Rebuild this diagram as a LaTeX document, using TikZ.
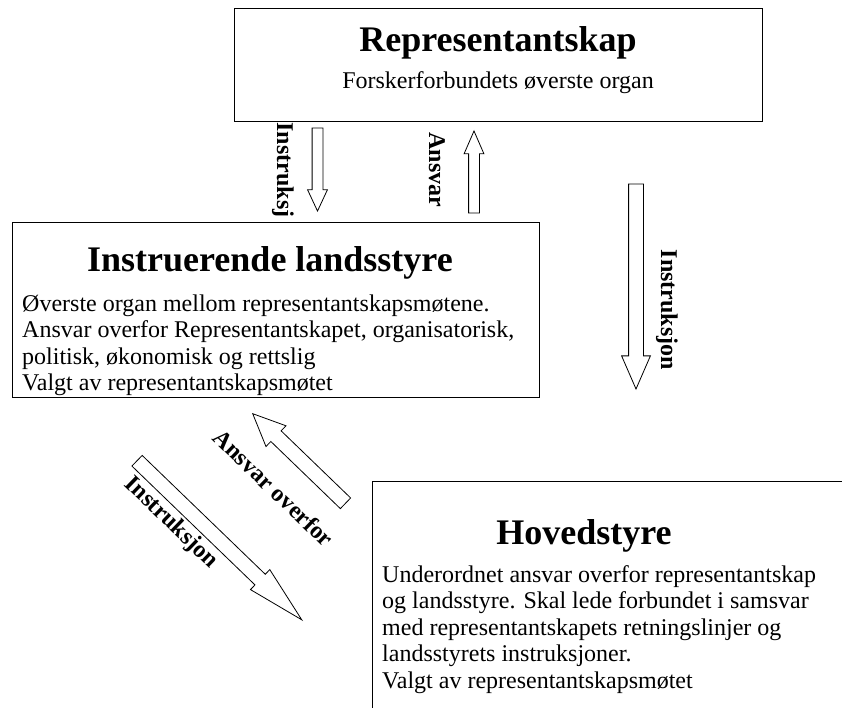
\documentclass[tikz,border=0pt]{standalone}
\usepackage{fontspec}
\setmainfont{Liberation Serif}
\usetikzlibrary{shapes.arrows}
\newcommand\bodyfont{\fontsize{24}{26.5}\selectfont}
\newcommand\headfont{\fontsize{36}{40}\selectfont\bfseries}
\newcommand\tagfont{\fontsize{24}{26}\selectfont\bfseries}
\newcommand\textlines[1]{\parbox[t]{520pt}{\raggedright #1}}

\begin{document}
\begin{tikzpicture}[x=1pt, y=-1pt,
    orgbox/.style = {draw, line width=1.3pt, fill=white, inner sep=0pt, anchor=north west},
    bodytext/.style = {inner sep=0pt, font=\bodyfont},
    titletext/.style = {inner sep=0pt, font=\headfont},
    arrowlabel/.style = {inner sep=0pt, font=\tagfont},
    blockarrow/.style = {single arrow, draw, line width=0.8pt, fill=white, anchor=tip,
        inner xsep=0pt, inner ysep=5pt, minimum width=0pt, single arrow head extend=4.5pt, single arrow tip angle=50},
    bigarrow/.style = {blockarrow, inner ysep=7pt, single arrow head extend=7pt}]
    \useasboundingbox (0,0) rectangle (842,708);
    \clip (0,0) rectangle (842,708);

    %Boxes
    \node[orgbox, minimum width=528pt, minimum height=113pt] (rep) at (234,8) {};
    \node[orgbox, minimum width=527pt, minimum height=175pt] (ils) at (12,222) {};
    \node[orgbox, minimum width=500pt, minimum height=260pt] (hs) at (372,481) {};

    %Representantskap
    \node[titletext, anchor=base] (reptitle) at (498,52) {Representantskap};
    \node[bodytext, anchor=base] (repsub) at (498,89) {Forskerforbundets øverste organ};

    %Instruerende landsstyre
    \node[titletext, anchor=base] (ilstitle) at (270,272) {Instruerende landsstyre};
    \node[bodytext, anchor=base west] (ilstext) at (22,311) {\textlines{Øverste organ mellom representantskapsmøtene.\\
        Ansvar overfor Representantskapet, organisatorisk,\\
        politisk, økonomisk og rettslig\\
        Valgt av representantskapsmøtet}};

    %Hovedstyre
    \node[titletext, anchor=base] (hstitle) at (584,544) {Hovedstyre};
    \node[bodytext, anchor=base west] (hstext) at (382,582) {\textlines{Underordnet ansvar overfor representantskap\\
        og landsstyre. Skal lede forbundet i samsvar\\
        med representantskapets retningslinjer og\\
        landsstyrets instruksjoner.\\
        Valgt av representantskapsmøtet}};

    %Arrows between the boxes
    \node[blockarrow, minimum height=83pt, rotate=-90] (instr1) at (317.5,212) {};
    \node[blockarrow, minimum height=82pt, rotate=90, single arrow tip angle=47] (ansv1) at (474,130) {};
    \node[bigarrow, minimum height=205pt, rotate=-90, single arrow tip angle=47] (instr2) at (636,390) {};
    \node[bigarrow, minimum height=129pt, rotate=136, single arrow tip angle=48] (ansv2) at (252,413) {};
    \node[bigarrow, single arrow head extend=6.5pt, minimum height=229pt, rotate=-44,
        single arrow tip angle=27] (instr3) at (303,621) {};

    %Labels
    \node[arrowlabel, rotate=-90] (linstr1) at (283,170) {Instruksj};
    \node[arrowlabel, rotate=-90] (lansv1) at (437,170) {Ansvar};
    \node[arrowlabel, rotate=-90] (linstr2) at (667,310) {Instruksjon};
    \node[arrowlabel, rotate=-44] (lansv2) at (274,488) {Ansvar overfor};
    \node[arrowlabel, rotate=-44] (linstr3) at (171,523) {Instruksjon};
\end{tikzpicture}
\end{document}
